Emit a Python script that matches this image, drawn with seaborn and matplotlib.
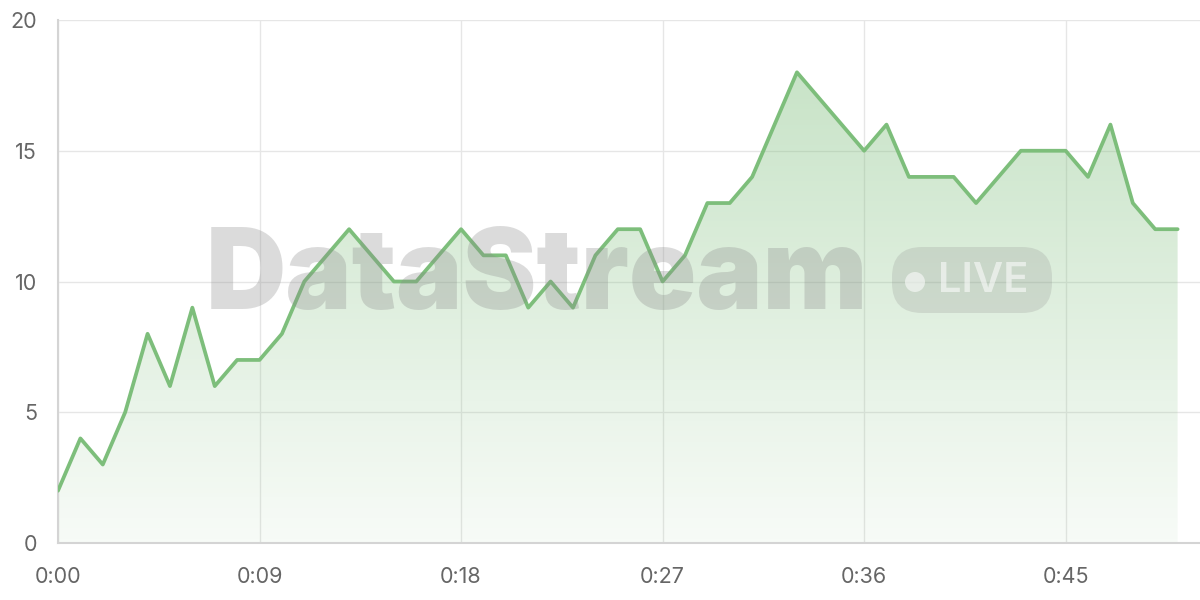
import numpy as np
import pandas as pd
import seaborn as sns
import matplotlib.pyplot as plt
from matplotlib.patches import FancyBboxPatch, Circle

# values per second
seconds = list(range(51))
values = [2, 4, 3, 5, 8, 6, 9, 6, 7, 7,
          8, 10, 11, 12, 11, 10, 10, 11, 12, 11,
          11, 9, 10, 9, 11, 12, 12, 10, 11, 13,
          13, 14, 16, 18, 17, 16, 15, 16, 14, 14,
          14, 13, 14, 15, 15, 15, 14, 16, 13, 12,
          12]
tick_seconds = [0, 9, 18, 27, 36, 45]
tick_labels = ["0:00", "0:09", "0:18", "0:27", "0:36", "0:45"]
y_ticks = [0, 5, 10, 15, 20]

df = pd.DataFrame({"t": seconds, "v": values})

sns.set_style("white")
plt.rcParams['font.family'] = ['Inter', 'DejaVu Sans']

line_color = "#7dbe7b"

fig = plt.figure(figsize=(12, 6), dpi=100)
ax = fig.add_axes([58 / 1200, 57 / 600, 1142 / 1200, 523 / 600])

# gradient fill under the line
fill = ax.fill_between(df["t"], df["v"], 0, color="none", lw=0)
grad = np.linspace(0.06, 0.42, 256).reshape(-1, 1)
rgba = np.zeros((256, 1, 4))
rgba[..., 0] = 0.49
rgba[..., 1] = 0.745
rgba[..., 2] = 0.48
rgba[..., 3] = grad
img = ax.imshow(rgba, extent=[0, 50, 0, 18], origin="lower", aspect="auto", zorder=1)
img.set_clip_path(fill.get_paths()[0], transform=ax.transData)

sns.lineplot(data=df, x="t", y="v", ax=ax, color=line_color, lw=2.7, zorder=4)

# watermark (pixel coordinates of the 1200x600 canvas)
fig.text(206 / 1200, 1 - 280 / 600, "DataStream", fontsize=80, fontweight="black",
         color="#8a8a8a", alpha=0.3, ha="left", va="center", zorder=3)
pill = FancyBboxPatch((892, 287), 160, 66, boxstyle="round,pad=0,rounding_size=30",
                      transform=None, facecolor="#8a8a8a", alpha=0.22, lw=0, zorder=3)
fig.patches.append(pill)
dot = Circle((915, 318), 10, transform=None, facecolor="white", alpha=0.55, lw=0, zorder=4)
fig.patches.append(dot)
fig.text(938 / 1200, 1 - 281 / 600, "LIVE", fontsize=30, fontweight="semibold",
         color="white", alpha=0.55, ha="left", va="center")

ax.set_xlim(0, 51)
ax.set_ylim(0, 20)
ax.set_xticks(tick_seconds)
ax.set_xticklabels(tick_labels)
ax.set_yticks(y_ticks)
ax.grid(True, color="#e6e6e6", lw=1)
ax.set_axisbelow(True)
ax.set_xlabel("")
ax.set_ylabel("")
for s in ["top", "right"]:
    ax.spines[s].set_visible(False)
for s in ["left", "bottom"]:
    ax.spines[s].set_color("#d4d4d4")
    ax.spines[s].set_linewidth(1.5)
ax.tick_params(axis="both", length=10, color="#e6e6e6", labelsize=15.5, labelcolor="#666666", pad=7)
ax.tick_params(axis="y", pad=5)

fig.savefig("out.png", dpi=100)
